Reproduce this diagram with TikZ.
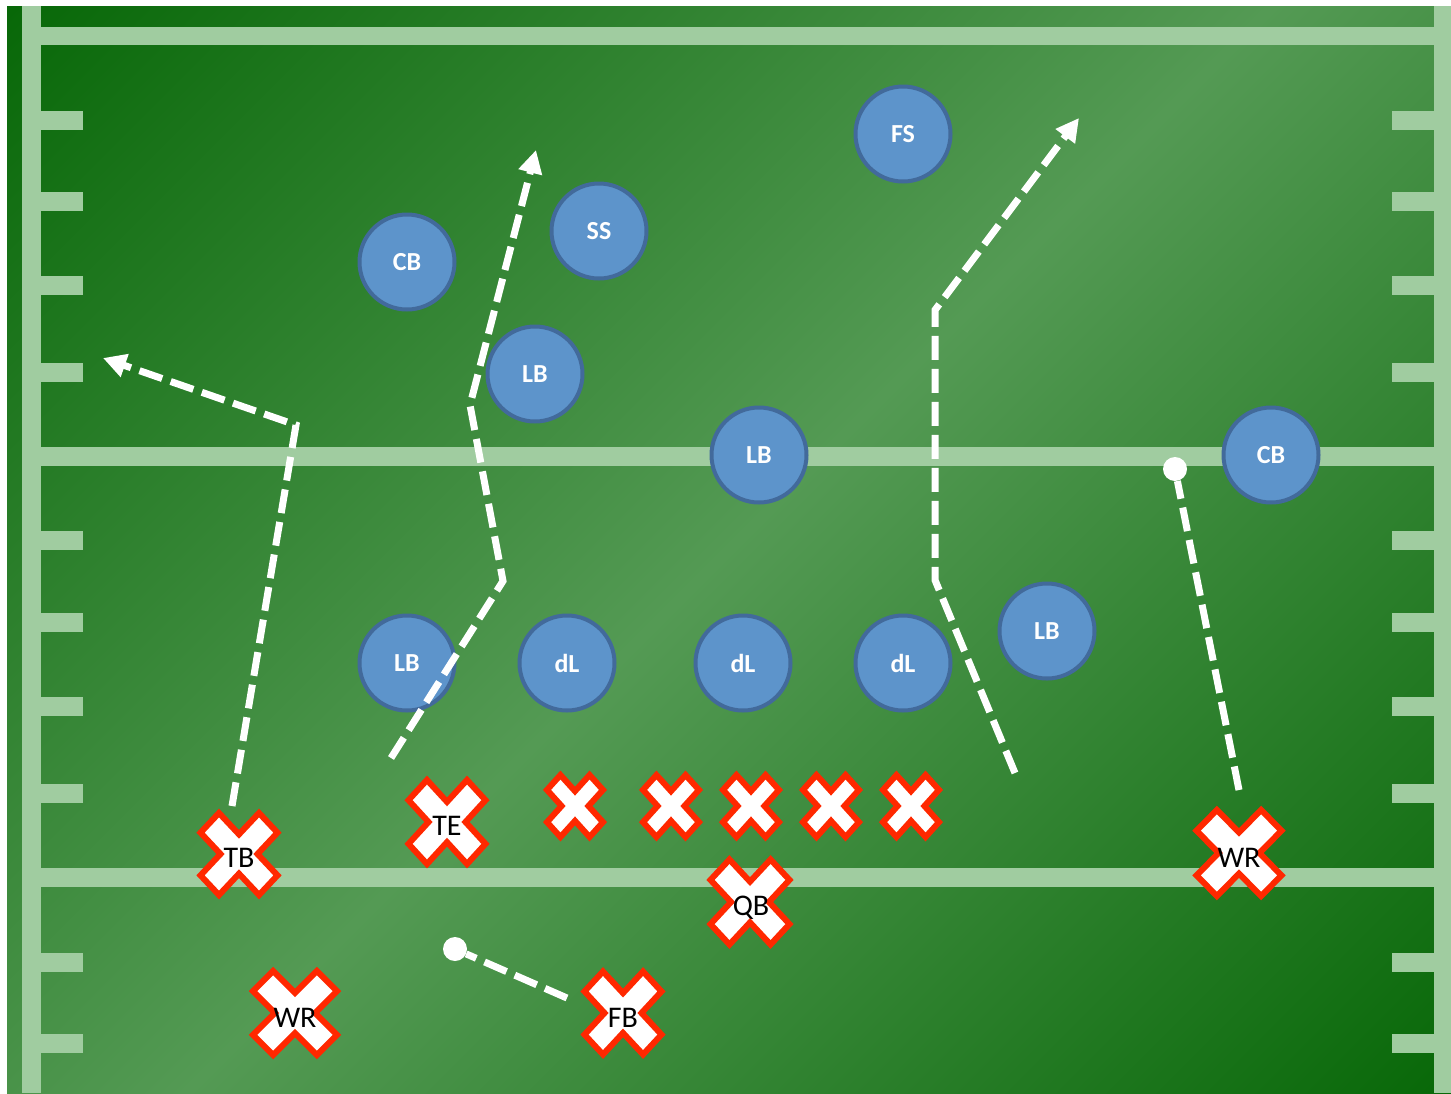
\documentclass[tikz,border=0pt]{standalone}
\usepackage{fontspec}
\setmainfont{Carlito}
\usetikzlibrary{arrows.meta}
\definecolor{fdark}{RGB}{8,104,8}
\definecolor{flight}{RGB}{84,154,84}
\definecolor{stripe}{RGB}{160,204,160}
\definecolor{dfill}{RGB}{93,148,203}
\definecolor{dline}{RGB}{66,106,155}
\definecolor{xred}{RGB}{255,40,0}
\pgfdeclarehorizontalshading{fieldshade}{100bp}{color(0bp)=(fdark); color(14.6bp)=(fdark); color(50bp)=(flight); color(85.4bp)=(fdark); color(100bp)=(fdark)}
\tikzset{
  defense/.style={circle, fill=dfill, draw=dline, line width=4pt, minimum size=95pt, inner sep=0pt,
    text=white, font=\fontsize{26}{26}\selectfont\bfseries},
  xmark/.style={fill=white, draw=xred, line width=6pt, line join=miter},
  xlab/.style={anchor=base, inner sep=0pt, text=black, font=\fontsize{30}{30}\selectfont},
  route/.style={draw=white, line width=7pt, dash pattern=on 24pt off 9pt},
  routearrow/.style={route, -{Triangle[length=23pt,width=23pt]}},
  enddot/.style={circle, fill=white, minimum size=24pt, inner sep=0pt},
  stripefill/.style={fill=stripe}
}
\newcommand{\xplayer}[4]{% x, y, half width, half height
  \draw[xmark, shift={(#1,#2)}, xscale=#3, yscale=#4]
    (0,-0.48) -- (0.52,-1) -- (1,-0.52) -- (0.48,0) -- (1,0.52) -- (0.52,1) --
    (0,0.48) -- (-0.52,1) -- (-1,0.52) -- (-0.48,0) -- (-1,-0.52) -- (-0.52,-1) -- cycle;}
\begin{document}
\begin{tikzpicture}[x=1pt, y=-1pt]
\useasboundingbox (0,0) rectangle (1451,1093);
\fill[white] (0,0) rectangle (1451,1093);
% field
\shade[shading=fieldshade, shading angle=-45] (7,6) rectangle (1451,1093);
% side lines and yard lines
\fill[stripefill] (22,6) rectangle (41,1093);
\fill[stripefill] (1434,6) rectangle (1451,1093);
\fill[stripefill] (41,27) rectangle (1434,45);
\fill[stripefill] (41,447) rectangle (1434,466);
\fill[stripefill] (41,868) rectangle (1434,887);
\foreach \ty in {120,201,285,372,540,622,706,793,962,1043}{
  \fill[stripefill] (41,\ty-9.5) rectangle (83,\ty+9.5);
  \fill[stripefill] (1392,\ty-9.5) rectangle (1434,\ty+9.5);
}
% defense
\node[defense] (fs)  at (903,134) {FS};
\node[defense] (ss)  at (599,231) {SS};
\node[defense] (cbl) at (407,262) {CB};
\node[defense] (lb1) at (535,374) {LB};
\node[defense] (lb2) at (759,455) {LB};
\node[defense] (cbr) at (1271,455) {CB};
\node[defense] (lb3) at (1047,631) {LB};
\node[defense] (lb4) at (407,663) {LB};
\node[defense] (dl1) at (567,663) {dL};
\node[defense] (dl2) at (743,663) {dL};
\node[defense] (dl3) at (903,663) {dL};
% route points
\coordinate (tbA) at (232,806);
\coordinate (tbB) at (296,425);
\coordinate (tbC) at (103,358);
\coordinate (teA) at (391,758);
\coordinate (teB) at (503,581);
\coordinate (teC) at (470,405);
\coordinate (teD) at (536,150);
\coordinate (rtA) at (1015,773);
\coordinate (rtB) at (935,580);
\coordinate (rtC) at (935,310);
\coordinate (rtD) at (1079,118);
\coordinate (wrA) at (1239,790);
\coordinate (fbA) at (567,998);
\node[enddot] (d1) at (1175,469) {};
\node[enddot] (d2) at (455,949) {};
% routes
\draw[routearrow] (tbA) -- (tbB) -- (tbC);
\draw[routearrow] (teA) -- (teB) -- (teC) -- (teD);
\draw[routearrow] (rtA) -- (rtB) -- (rtC) -- (rtD);
\draw[route] (wrA) -- (d1);
\draw[route] (fbA) -- (d2);
% offense line
\xplayer{575}{806}{28}{31}
\xplayer{671}{806}{28}{31}
\xplayer{751}{806}{28}{31}
\xplayer{831}{806}{28}{31}
\xplayer{911}{806}{28}{31}
% offense skill players
\xplayer{239}{854}{38.5}{41}
\node[xlab] (tb) at (239,867) {TB};
\xplayer{447}{822}{38.5}{42}
\node[xlab] (te) at (447,835) {TE};
\xplayer{750}{902}{39.5}{42.5}
\node[xlab] (qb) at (751,915) {QB};
\xplayer{1239}{853}{42.5}{43}
\node[xlab] (wrr) at (1239,867) {WR};
\xplayer{295}{1013}{42}{42}
\node[xlab] (wrl) at (295,1027) {WR};
\xplayer{623}{1013}{38.5}{41.5}
\node[xlab] (fb) at (623,1027) {FB};
\end{tikzpicture}
\end{document}
